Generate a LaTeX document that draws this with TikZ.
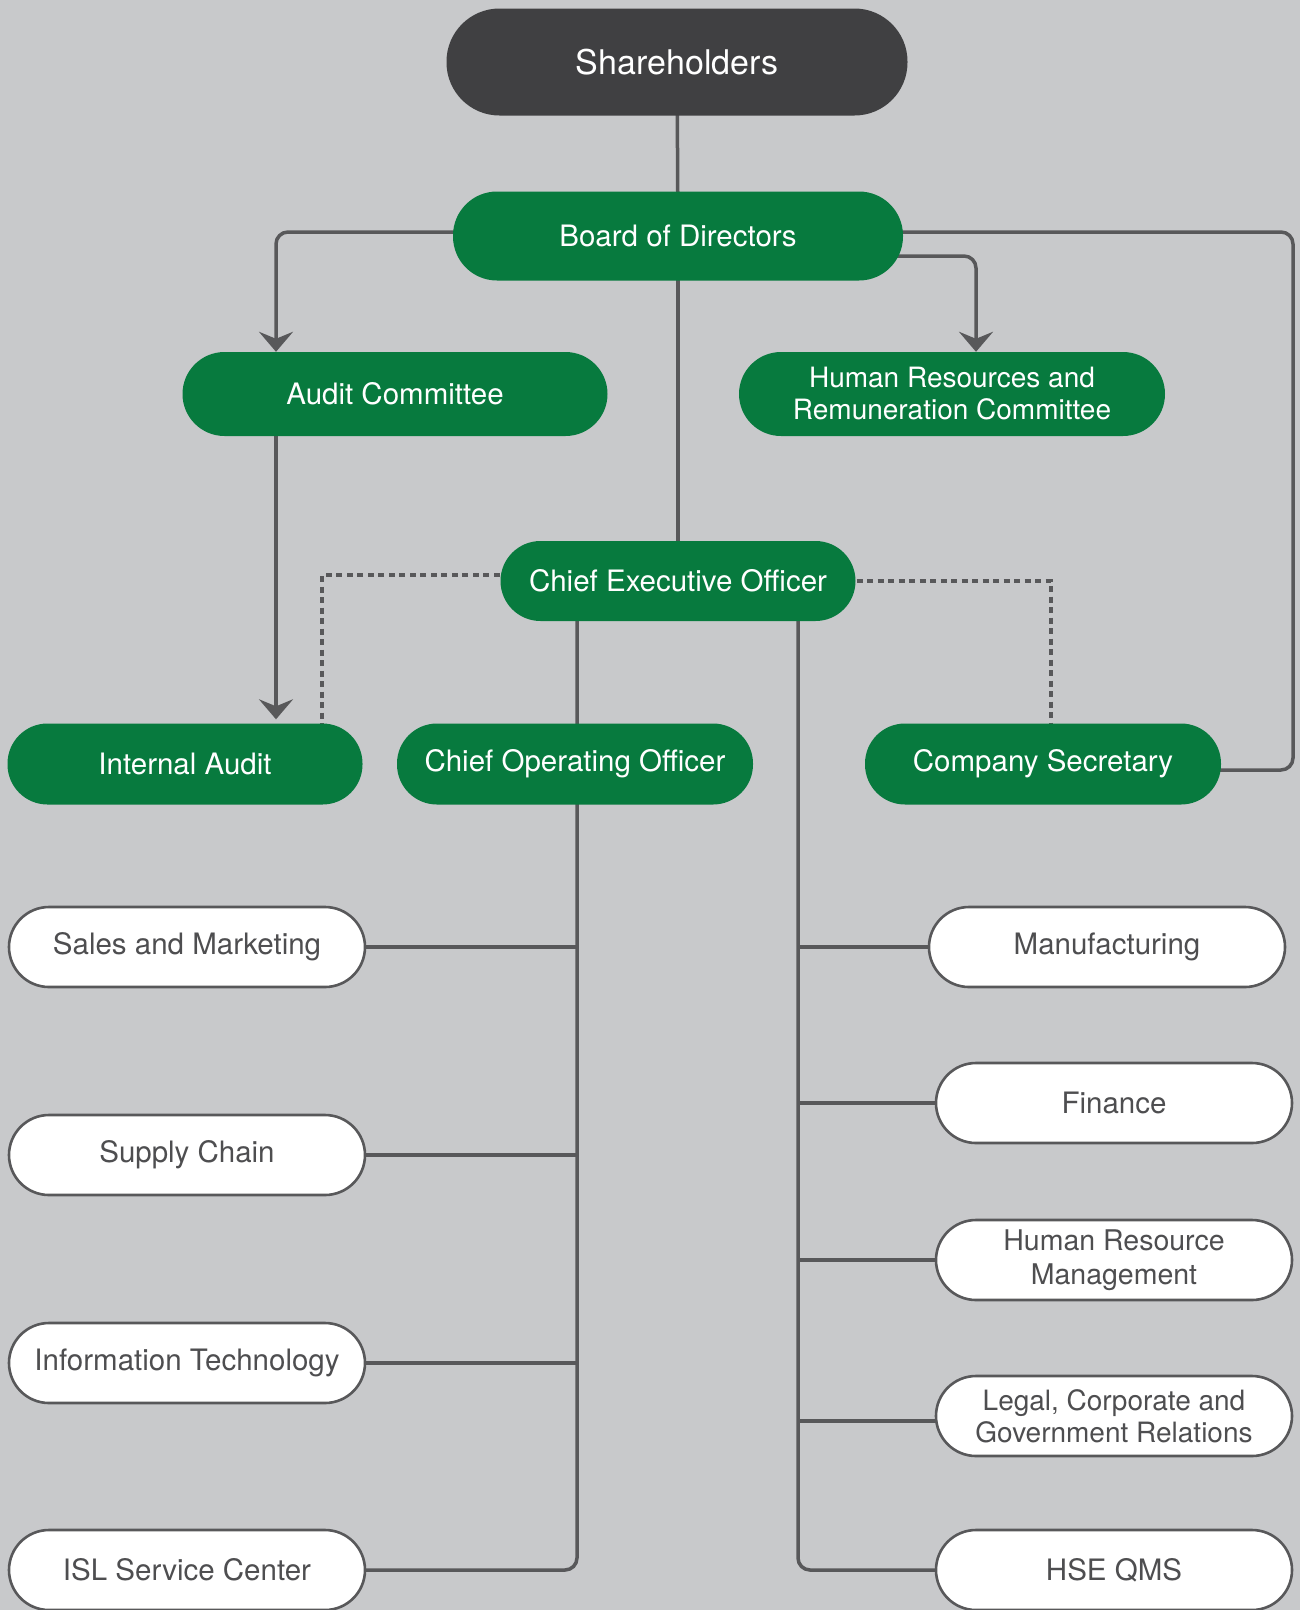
\documentclass[tikz,border=0pt]{standalone}
\usepackage{fontspec}
\setmainfont{TeX Gyre Heros}
\usetikzlibrary{arrows.meta,backgrounds}
\definecolor{bggray}{RGB}{200,201,203}
\definecolor{corpgreen}{RGB}{7,122,62}
\definecolor{darkbox}{RGB}{64,64,66}
\definecolor{linegray}{RGB}{88,88,90}
\definecolor{textgray}{RGB}{78,78,80}
\begin{document}
\begin{tikzpicture}[x=1pt,y=-1pt,
  basebox/.style={inner sep=0pt, align=center, font=\fontsize{29.5}{32}\selectfont},
  greenbox/.style={basebox, fill=corpgreen, text=white, rounded corners=40pt, minimum width=355pt, minimum height=81pt},
  whitebox/.style={basebox, fill=white, draw=linegray, line width=2.6pt, text=textgray, rounded corners=40pt, minimum width=356pt, minimum height=80pt},
  conn/.style={draw=linegray, line width=3.5pt, rounded corners=12pt},
  dotconn/.style={draw=linegray, line width=3.5pt, dash pattern=on 6pt off 4.5pt},
  tip/.style={-{Stealth[length=20pt,width=34pt,inset=7pt]}}
]
\useasboundingbox (0,0) rectangle (1300,1610);
\begin{pgfonlayer}{background}
  \fill[bggray] (0,0) rectangle (1300,1610);
\end{pgfonlayer}

% top level
\node[basebox, fill=darkbox, text=white, rounded corners=53pt, minimum width=461pt, minimum height=107pt, font=\fontsize{34}{36}\selectfont] (sh) at (677,62) {Shareholders};
\node[greenbox, minimum width=450pt, minimum height=89pt, rounded corners=44pt] (bod) at (678,236) {Board of Directors};
\node[greenbox, minimum width=425pt, minimum height=84pt, rounded corners=42pt] (ac) at (395,394) {Audit Committee};
\node[greenbox, minimum width=426pt, minimum height=84pt, rounded corners=42pt, font=\fontsize{28}{32}\selectfont] (hr) at (952,394) {Human Resources and\\Remuneration Committee};
\node[greenbox, minimum width=355pt, minimum height=80pt] (ceo) at (678,581) {Chief Executive Officer};
\node[greenbox] (ia) at (185,764) {Internal Audit};
\node[greenbox, minimum width=356pt] (coo) at (575,764) {Chief Operating Officer};
\node[greenbox, minimum width=356pt] (cs) at (1043,764) {Company Secretary};

% departments
\node[whitebox] (sm) at (187,947) {Sales and Marketing};
\node[whitebox] (sc) at (187,1155) {Supply Chain};
\node[whitebox] (it) at (187,1363) {Information Technology};
\node[whitebox] (isl) at (187,1570) {ISL Service Center};
\node[whitebox] (mf) at (1107,947) {Manufacturing};
\node[whitebox] (fin) at (1114,1103) {Finance};
\node[whitebox, font=\fontsize{28.5}{34}\selectfont] (hrm) at (1114,1260) {Human Resource\\Management};
\node[whitebox, font=\fontsize{28}{32}\selectfont] (leg) at (1114,1416) {Legal, Corporate and\\Government Relations};
\node[whitebox] (hse) at (1114,1570) {HSE QMS};

% helper coordinates
\coordinate (acx) at (276,0);
\coordinate (hrx) at (976,0);
\coordinate (rimx) at (1293,0);
\coordinate (dlx) at (322,0);
\coordinate (drx) at (1051,0);
\coordinate (lx) at (577,0);
\coordinate (rx) at (798,0);

\begin{pgfonlayer}{background}
  \draw[conn] (sh.center) -- (bod.center);
  \draw[conn] (bod.center) -- (ceo.center);
  \draw[conn, tip] ([yshift=4pt]bod.center) -| (acx |- ac.north);
  \draw[conn, tip] ([yshift=-20pt]bod.center) -| (hrx |- hr.north);
  \draw[conn] ([yshift=4pt]bod.center) -| ([yshift=-6pt]rimx |- cs.east) -- ([yshift=-6pt]cs.center);
  \draw[conn, tip, rounded corners=0pt] (acx |- ac.center) -- ([yshift=4pt]acx |- ia.north);
  \draw[dotconn] ([yshift=6pt]ceo.center) -| (dlx |- ia.north);
  \draw[dotconn] (ceo.center) -| (drx |- cs.north);
  \draw[conn] (lx |- ceo.center) -- (lx |- isl.center) -- (isl.center);
  \draw[conn] (rx |- ceo.center) -- (rx |- hse.center) -- (hse.center);
  \draw[conn] (sm.center) -- (lx |- sm.center);
  \draw[conn] (sc.center) -- (lx |- sc.center);
  \draw[conn] (it.center) -- (lx |- it.center);
  \draw[conn] (mf.center) -- (rx |- mf.center);
  \draw[conn] (fin.center) -- (rx |- fin.center);
  \draw[conn] (hrm.center) -- (rx |- hrm.center);
  \draw[conn] ([yshift=-5pt]leg.center) -- ([yshift=-5pt]rx |- leg.center);
\end{pgfonlayer}
\end{tikzpicture}
\end{document}
